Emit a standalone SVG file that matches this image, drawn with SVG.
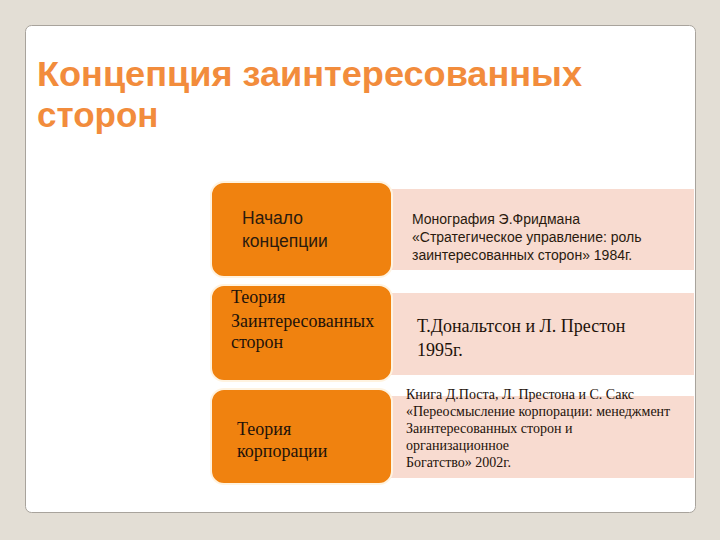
<svg xmlns="http://www.w3.org/2000/svg" width="720" height="540" viewBox="0 0 720 540">
<style>
.bg{fill:#e3ded5}
.card{fill:#ffffff;stroke:#a8a39c;stroke-width:1}
.ob{fill:#f0820f;stroke:#fff3e0;stroke-width:2}
.pb{fill:#f8dbd0}
.title{font-family:"Liberation Sans",Arial,sans-serif;font-weight:bold;font-size:35px;fill:#f28c3c}
.sa{font-family:"Liberation Sans",Arial,sans-serif;fill:#2a1a0e}
.se{font-family:"Liberation Serif","Times New Roman",serif;fill:#1e120a}
</style>
<rect class="bg" x="0" y="0" width="720" height="540"/>
<rect class="card" x="25.5" y="25.5" width="670" height="487" rx="6"/>
<g id="title">
<text class="title" x="37" y="86" textLength="545" lengthAdjust="spacingAndGlyphs">Концепция заинтересованных</text>
<text class="title" x="37" y="127">сторон</text>
</g>
<g id="node-start">
<rect class="pb" x="391" y="189" width="303" height="81"/>
<rect class="ob" x="211" y="182" width="181" height="95" rx="13"/>
<text class="sa" font-size="17.5" x="242" y="224">Начало</text>
<text class="sa" font-size="17.5" x="242" y="247">концепции</text>
<text class="sa" font-size="14" x="412" y="224">Монография Э.Фридмана</text>
<text class="sa" font-size="14" x="412" y="242">«Стратегическое управление: роль</text>
<text class="sa" font-size="14" x="412" y="260">заинтересованных сторон» 1984г.</text>
</g>
<g id="node-stakeholder">
<rect class="pb" x="391" y="293" width="303" height="82"/>
<rect class="ob" x="211" y="285" width="181" height="96" rx="13"/>
<text class="se" font-size="18" x="231" y="303">Теория</text>
<text class="se" font-size="18" x="231" y="327">Заинтересованных</text>
<text class="se" font-size="18" x="231" y="348">сторон</text>
<text class="se" font-size="18" x="417" y="332">Т.Дональтсон и Л. Престон</text>
<text class="se" font-size="18" x="417" y="356">1995г.</text>
</g>
<g id="node-corporation">
<rect class="pb" x="391" y="396" width="303" height="82"/>
<rect class="ob" x="211" y="389" width="181" height="95" rx="13"/>
<text class="se" font-size="18" x="237" y="435">Теория</text>
<text class="se" font-size="18" x="237" y="457">корпорации</text>
<text class="se" font-size="14" x="406" y="399">Книга Д.Поста, Л. Престона и С. Сакс</text>
<text class="se" font-size="14" x="406" y="416">«Переосмысление корпорации: менеджмент</text>
<text class="se" font-size="14" x="406" y="433">Заинтересованных сторон и</text>
<text class="se" font-size="14" x="406" y="450">организационное</text>
<text class="se" font-size="14" x="406" y="467">Богатство» 2002г.</text>
</g>
<g id="connectors"></g>
</svg>
